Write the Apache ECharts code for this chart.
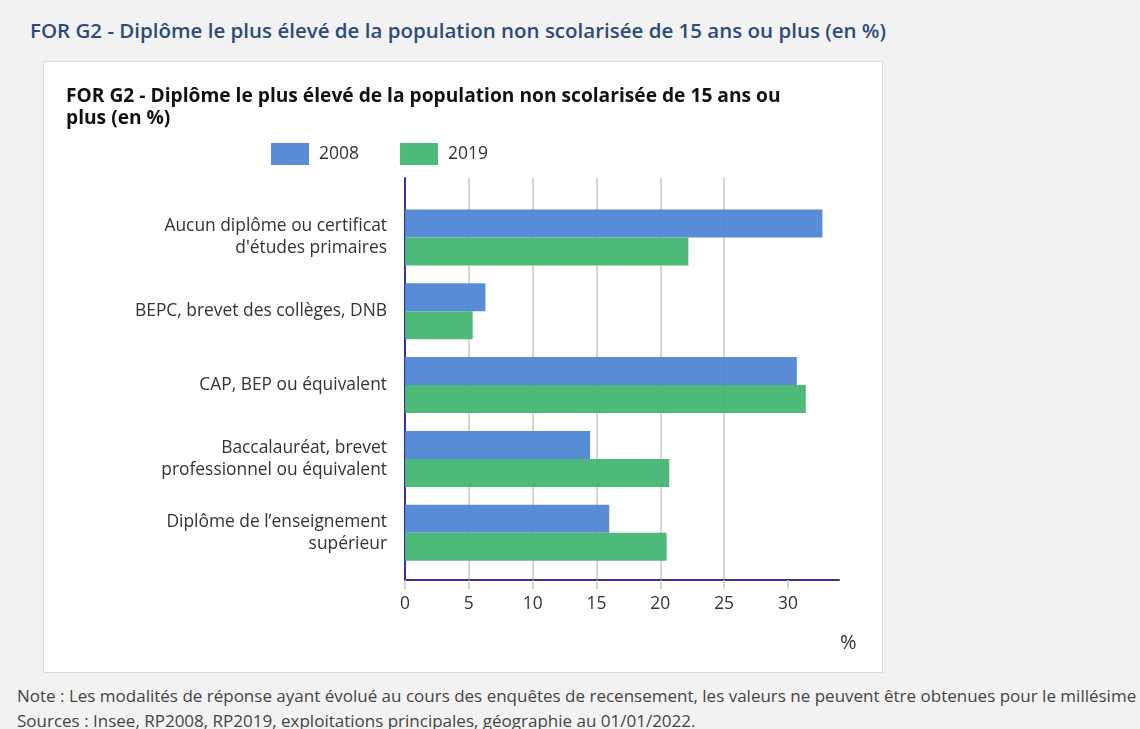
<!DOCTYPE html>
<html>
<head>
<meta charset="utf-8">
<script src="https://cdn.jsdelivr.net/npm/echarts@6/dist/echarts.min.js"></script>
<style>
  html, body {
    margin: 0;
    padding: 0;
    width: 1140px;
    height: 729px;
    background: #f2f2f2;
    font-family: "Open Sans", sans-serif;
    overflow: hidden;
  }
  .page-title {
    position: absolute;
    left: 30px;
    top: 16px;
    font-size: 20.5px;
    font-weight: 600;
    color: #2c4a7a;
    white-space: nowrap;
  }
  .chart-box {
    position: absolute;
    left: 43px;
    top: 61px;
    width: 840px;
    height: 612px;
    background: #fff;
    border: 1px solid #dcdcdc;
    box-sizing: border-box;
  }
  #chart {
    width: 100%;
    height: 100%;
  }
  .notes {
    position: absolute;
    left: 17px;
    top: 683px;
    width: 1123px;
    font-size: 17px;
    color: #444;
    line-height: 25px;
    white-space: nowrap;
    overflow: hidden;
  }
</style>
</head>
<body>
<div class="page-title">FOR G2 - Diplôme le plus élevé de la population non scolarisée de 15 ans ou plus (en %)</div>
<div class="chart-box"><div id="chart"></div></div>
<div class="notes">
  <div>Note : Les modalités de réponse ayant évolué au cours des enquêtes de recensement, les valeurs ne peuvent être obtenues pour le millésime 2013.</div>
  <div>Sources : Insee, RP2008, RP2019, exploitations principales, géographie au 01/01/2022.</div>
</div>
<script>
const categories = [
  'Aucun diplôme ou certificat\nd\'études primaires',
  'BEPC, brevet des collèges, DNB',
  'CAP, BEP ou équivalent',
  'Baccalauréat, brevet\nprofessionnel ou équivalent',
  'Diplôme de l’enseignement\nsupérieur'
]
const values2008 = [32.7, 6.3, 30.7, 14.5, 16.0]
const values2019 = [22.2, 5.3, 31.4, 20.7, 20.5]
const xTicks = [0, 5, 10, 15, 20, 25, 30]

const axisColor = '#34349a'
const gridColor = '#c8c8c8'
const textColor = '#333'

const chart = echarts.init(document.getElementById('chart'))

const option = {
  backgroundColor: 'transparent',
  textStyle: { fontFamily: 'Open Sans' },
  title: {
    text: 'FOR G2 - Diplôme le plus élevé de la population non scolarisée de 15 ans ou\nplus (en %)',
    left: 22,
    top: 24,
    padding: 0,
    textStyle: {
      fontSize: 19.2,
      fontWeight: 'bold',
      color: '#111',
      lineHeight: 22
    }
  },
  legend: {
    data: ['2008', '2019'],
    left: 227,
    top: 81,
    padding: 0,
    itemWidth: 38,
    itemHeight: 22,
    itemGap: 41,
    icon: 'rect',
    textStyle: { fontSize: 17.5, color: textColor, padding: [0, 0, 0, 5] }
  },
  grid: [
    // bars
    { left: 361, right: 43, top: 138.6, height: 369 },
    // axis frame + gridlines
    { left: 361, right: 43, top: 116, bottom: 92 }
  ],
  xAxis: [
    { gridIndex: 0, type: 'value', min: 0, max: 34, show: false },
    {
      gridIndex: 1,
      type: 'value',
      min: 0,
      max: 34,
      interval: 5,
      axisLine: { show: true, lineStyle: { color: axisColor, width: 2 } },
      axisTick: {
        show: true,
        length: 9,
        customValues: xTicks,
        lineStyle: { color: gridColor, width: 1.5 }
      },
      axisLabel: {
        customValues: xTicks,
        margin: 16,
        fontSize: 17.4,
        color: textColor
      },
      splitLine: {
        show: true,
        showMinLine: false,
        showMaxLine: false,
        lineStyle: { color: gridColor, width: 1.5 }
      }
    }
  ],
  yAxis: [
    {
      gridIndex: 0,
      type: 'category',
      data: categories,
      inverse: true,
      axisLine: { show: false },
      axisTick: { show: false },
      axisLabel: {
        margin: 18,
        fontSize: 17.4,
        lineHeight: 22,
        color: textColor,
        align: 'right'
      }
    },
    {
      gridIndex: 1,
      type: 'value',
      min: 0,
      max: 1,
      axisLine: { show: true, lineStyle: { color: axisColor, width: 2 } },
      axisTick: { show: false },
      axisLabel: { show: false },
      splitLine: { show: false }
    }
  ],
  series: [
    {
      name: '2008',
      type: 'bar',
      xAxisIndex: 0,
      yAxisIndex: 0,
      data: values2008,
      barWidth: 28,
      barGap: '0%',
      itemStyle: { color: '#4f86d4', opacity: 0.95 }
    },
    {
      name: '2019',
      type: 'bar',
      xAxisIndex: 0,
      yAxisIndex: 0,
      data: values2019,
      barWidth: 28,
      barGap: '0%',
      itemStyle: { color: '#43b672', opacity: 0.95 }
    }
  ],
  graphic: [
    {
      type: 'text',
      left: 796,
      top: 571,
      style: { text: '%', fontSize: 20, fill: textColor, fontFamily: 'Open Sans' }
    }
  ]
}

chart.setOption(option)
</script>
</body>
</html>
